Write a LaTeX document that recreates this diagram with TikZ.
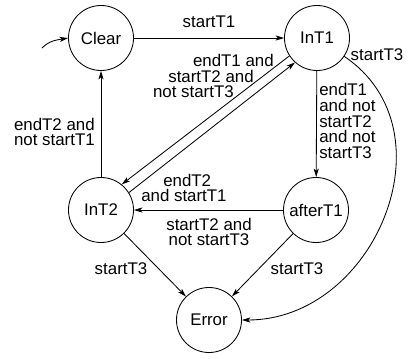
\documentclass[tikz,border=0pt]{standalone}
\usepackage{fontspec}
\setmainfont{Liberation Sans}
\usetikzlibrary{arrows.meta, positioning}

\begin{document}
\begin{tikzpicture}[x=0.025cm, y=-0.025cm]

% Define styles
\tikzstyle{statenode} = [circle, draw=black, line width=0.6pt, minimum size=1.625cm, inner sep=0pt, font=\fontsize{12}{11.2}\selectfont]
\tikzstyle{lbl} = [inner sep=0pt, font=\fontsize{12}{11.2}\selectfont]
\tikzstyle{arrow} = [line width=0.6pt, -{Stealth[length=6pt, width=3.6pt, inset=1.5pt]}]

\useasboundingbox (0,0) rectangle (408,358);

% Nodes
\node (clear) [statenode] at (101,38) {Clear};
\node (int1) [statenode] at (317,38) {InT1};
\node (int2) [statenode] at (101,210) {InT2};
\node (aftert1) [statenode] at (316,210) {afterT1};
\node (error) [statenode] at (209,320) {Error};
\coordinate (start) at (42,48);

% Labels
\node (lbl1) [lbl] at (209,22) {startT1};
\node (lbl2) [lbl, anchor=east, align=right] at (274,76) {endT1 and\\startT2 and\kern0.5cm\\not startT3\kern1cm};
\node (lbl3) [lbl, anchor=west, align=left] at (141,188) {\kern0.55cm endT2\\and startT1};
\node (lbl4) [lbl, anchor=east, align=right] at (95,132) {endT2 and\\not startT1};
\node (lbl5) [lbl, anchor=west, align=left] at (319,121) {endT1\\and not\\startT2\\and not\\startT3};
\node (lbl6) [lbl] at (377,55) {startT3};
\node (lbl7) [lbl, align=center] at (209,232) {startT2 and\\not startT3};
\node (lbl8) [lbl] at (121,269) {startT3};
\node (lbl9) [lbl] at (297,269) {startT3};

% Arrows
\draw [arrow] (start) to[out=45, in=190] (clear.west);
\draw [arrow] (clear) -- (int1);
\draw [arrow] (int2) -- (clear);
\draw [arrow] (int1.213) -- (int2.51);
\draw [arrow] (int2.32) -- (int1.228);
\draw [arrow] (int1) -- (aftert1);
\draw [arrow] (aftert1) -- (int2);
\draw [arrow] (int2) -- (error);
\draw [arrow] (aftert1) -- (error);
\draw [arrow] (int1.-34) to[out=-34, in=0, looseness=1.2] (error.east);

\end{tikzpicture}
\end{document}
